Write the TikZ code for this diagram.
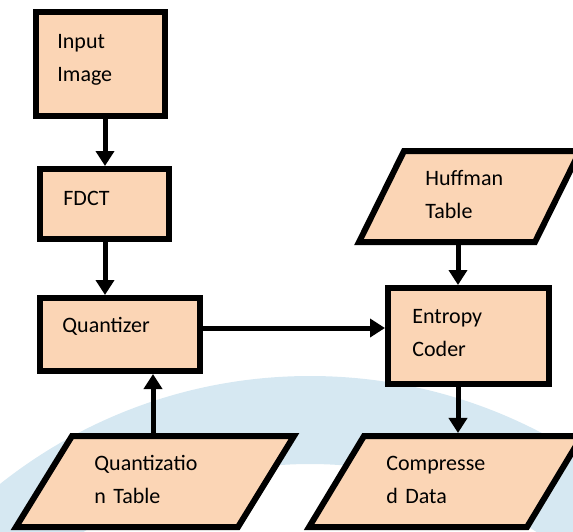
\documentclass[tikz,border=0pt]{standalone}
\usepackage{fontspec}
\setmainfont{Carlito}
\usepackage{xcolor}
\usepackage{tikz}
\usetikzlibrary{shapes.geometric}
\usetikzlibrary{arrows.meta}
\usetikzlibrary{positioning}

\definecolor{peach}{RGB}{251,213,181}
\definecolor{wmblue}{RGB}{214,232,242}

\tikzset{
  blk/.style={draw, line width=3pt, fill=peach, rectangle, inner sep=0pt},
  io/.style={draw, line width=3pt, fill=peach, shape=trapezium, inner ysep=22.75pt},
  txt/.style={inner sep=0pt, anchor=base west, text width=70pt, align=left,
    font=\fontsize{11}{16.75}\selectfont},
  arr/.style={line width=2.5pt, -{Triangle[length=7.5pt,width=9pt]}}
}

\begin{document}
\begin{tikzpicture}[x=0.5pt, y=-0.5pt]
  \useasboundingbox (0,0) rectangle (573,531);
  \clip (0,0) rectangle (573,531);

  % Fondo
  \fill[wmblue, even odd rule] (310,875) circle (499) (310,875) circle (411);

  % Cajas
  \node[blk, minimum width=64.5pt, minimum height=52pt] (inp) at (100.5,64) {};
  \node[blk, minimum width=64.5pt, minimum height=35pt] (fdct) at (104.5,204) {};
  \node[blk, minimum width=80pt, minimum height=36.5pt] (qnt) at (120,334.5) {};
  \node[blk, minimum width=80.5pt, minimum height=48pt] (ent) at (468.5,336) {};

  % Tablas y salida
  \node[io, inner xsep=32.75pt, trapezium left angle=63.7, trapezium right angle=116.3] (huf) at (469.5,196.5) {};
  \node[io, inner xsep=41.5pt, trapezium left angle=58.4, trapezium right angle=121.6] (qtab) at (155,481.5) {};
  \node[io, inner xsep=40.75pt, trapezium left angle=58.9, trapezium right angle=121.1] (cmp) at (445.5,481.5) {};

  % Textos
  \node[txt] (inp-t) at (57,48) {Input\\Image};
  \node[txt] (fdct-t) at (63,205) {FDCT};
  \node[txt] (qnt-t) at (62,332) {Quantizer};
  \node[txt] (ent-t) at (412,323) {Entropy\\Coder};
  \node[txt] (huf-t) at (425,185) {Huffman\\Table};
  \node[txt] (qtab-t) at (94,470) {Quantizatio\\n Table};
  \node[txt] (cmp-t) at (386,470) {Compresse\\d Data};

  % Conexiones
  \coordinate (colA) at (105,0);
  \coordinate (colB) at (153,0);
  \coordinate (colC) at (458,0);
  \coordinate (rowA) at (0,328);
  \draw[arr] (inp.south -| colA) -- (fdct.north -| colA);
  \draw[arr] (fdct.south -| colA) -- (qnt.north -| colA);
  \draw[arr] (qtab.north -| colB) -- (qnt.south -| colB);
  \draw[arr] (qnt.east |- rowA) -- (ent.west |- rowA);
  \draw[arr] (huf.south -| colC) -- (ent.north -| colC);
  \draw[arr] (ent.south -| colC) -- (cmp.north -| colC);
\end{tikzpicture}
\end{document}
